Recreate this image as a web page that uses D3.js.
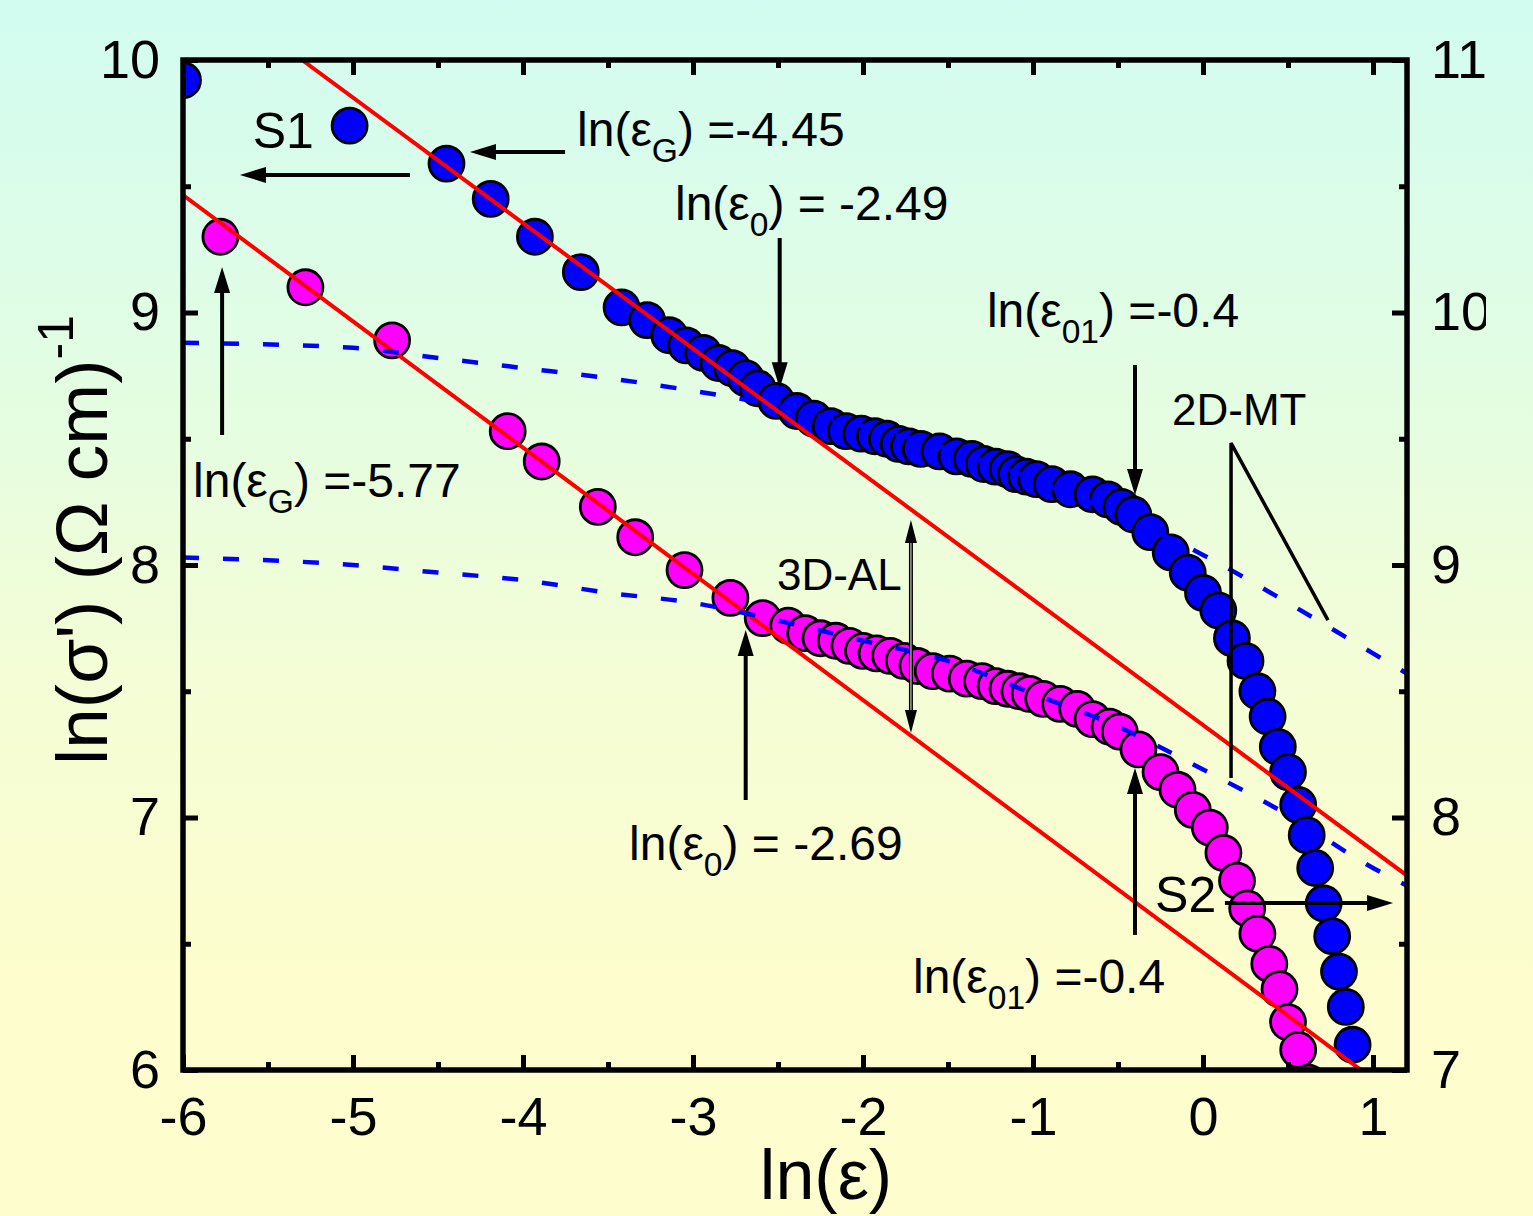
<!DOCTYPE html>
<html>
<head>
<meta charset="utf-8">
<script src="https://cdn.jsdelivr.net/npm/d3@7"></script>
<style>
  html, body { margin: 0; padding: 0; }
  body { width: 1533px; height: 1216px; overflow: hidden; }
  svg { display: block; font-family: "Liberation Sans", Arial, sans-serif; }
</style>
</head>
<body>
<svg id="chart" width="1533" height="1216"></svg>
<script>
// values, all in left-axis units
const s1X = [-6.0, -5.02, -4.45, -4.19, -3.93, -3.66, -3.42, -3.27, -3.14, -3.04, -2.94, -2.85, -2.77, -2.69, -2.62,
  -2.51, -2.39, -2.29, -2.19, -2.10, -2.01, -1.93, -1.86, -1.79, -1.73, -1.66, -1.55, -1.45, -1.36, -1.29,
  -1.22, -1.15, -1.10, -1.04, -0.98, -0.89, -0.78, -0.65, -0.56, -0.48, -0.41, -0.31, -0.19, -0.09, 0.0,
  0.09, 0.17, 0.25, 0.32, 0.38, 0.44, 0.50, 0.56, 0.61, 0.66, 0.71, 0.76, 0.80, 0.84, 0.88];
const s1Y = [9.92, 9.74, 9.59, 9.45, 9.30, 9.16, 9.02, 8.97, 8.91, 8.87, 8.84, 8.80, 8.78, 8.74, 8.70,
  8.65, 8.61, 8.58, 8.55, 8.53, 8.52, 8.51, 8.50, 8.48, 8.47, 8.46, 8.45, 8.43, 8.42, 8.40,
  8.39, 8.38, 8.36, 8.35, 8.34, 8.32, 8.30, 8.28, 8.26, 8.23, 8.20, 8.13, 8.05, 7.97, 7.89,
  7.82, 7.71, 7.62, 7.50, 7.40, 7.28, 7.18, 7.05, 6.93, 6.80, 6.66, 6.53, 6.39, 6.25, 6.10];

const s2X = [-5.78, -5.28, -4.77, -4.09, -3.89, -3.56, -3.34, -3.05, -2.78, -2.59, -2.44, -2.34, -2.25, -2.16, -2.08,
  -2.00, -1.92, -1.84, -1.76, -1.68, -1.59, -1.49, -1.39, -1.30, -1.22, -1.15, -1.08, -1.02, -0.94, -0.84,
  -0.74, -0.65, -0.55, -0.49, -0.38, -0.25, -0.15, -0.06, 0.04, 0.12, 0.20, 0.26, 0.32, 0.39, 0.45,
  0.50, 0.56, 0.62];
const s2Y = [9.30, 9.10, 8.89, 8.53, 8.41, 8.23, 8.11, 7.98, 7.87, 7.79, 7.76, 7.73, 7.71, 7.70, 7.68,
  7.66, 7.65, 7.64, 7.62, 7.60, 7.58, 7.57, 7.55, 7.54, 7.52, 7.51, 7.50, 7.49, 7.47, 7.45,
  7.43, 7.39, 7.36, 7.34, 7.27, 7.18, 7.11, 7.03, 6.96, 6.86, 6.75, 6.64, 6.54, 6.42, 6.32,
  6.19, 6.08, 5.95];

// 2D-MT fits (blue dashed)
const mtX = [-6, -5, -4.5, -4, -3.5, -3, -2.5, -2, -1.5, -1, -0.5, 0, 0.5, 1, 1.2];
const mt1Y = [8.88, 8.86, 8.82, 8.78, 8.74, 8.69, 8.63, 8.55, 8.46, 8.34, 8.20, 8.04, 7.85, 7.65, 7.57];
const mt2Y = [8.03, 8.00, 7.97, 7.94, 7.89, 7.85, 7.78, 7.70, 7.62, 7.49, 7.36, 7.19, 7.01, 6.80, 6.73];

// 3D-AL fits (red straight lines), end points
const al1X = [-5.3, 1.2];
const al1Y = [10.0, 6.77];
const al2X = [-6.0, 0.93];
const al2Y = [9.465, 6.0];

const xTicks = [-6, -5, -4, -3, -2, -1, 0, 1];
const yTicks = [6, 7, 8, 9, 10];
const yRightTicks = [7, 8, 9, 10, 11];

const svg = d3.select("#chart");
const W = 1533, H = 1216;

const x = d3.scaleLinear().domain([-6, 1.2]).range([183, 1407]);
const y = d3.scaleLinear().domain([6, 10]).range([1070, 60]);
const yR = d3.scaleLinear().domain([7, 11]).range([1070, 60]);

// background
const defs = svg.append("defs");
const grad = defs.append("linearGradient").attr("id", "bg").attr("x1", 0).attr("y1", 0).attr("x2", 0).attr("y2", 1);
[[0, "#d2fcf1"], [0.3, "#e2fde3"], [0.55, "#f4fdd6"], [0.8, "#fdfdcd"], [1, "#fefdcd"]].forEach(s =>
  grad.append("stop").attr("offset", s[0]).attr("stop-color", s[1]));
svg.append("rect").attr("width", W).attr("height", H).attr("fill", "url(#bg)");

defs.append("clipPath").attr("id", "plotClip").append("rect")
  .attr("x", x(-6)).attr("y", y(10)).attr("width", x(1.2) - x(-6)).attr("height", y(6) - y(10));
defs.append("clipPath").attr("id", "pageClip").append("rect")
  .attr("x", 0).attr("y", 0).attr("width", 1486).attr("height", H);

const plot = svg.append("g").attr("clip-path", "url(#plotClip)");

const zip = (xs, ys) => xs.map((v, i) => [v, ys[i]]);

// points
plot.append("g").selectAll("circle").data(zip(s1X, s1Y)).join("circle")
  .attr("cx", d => x(d[0])).attr("cy", d => y(d[1])).attr("r", 17.5)
  .attr("fill", "#0000ff").attr("stroke", "#000").attr("stroke-width", 2.8);
plot.append("g").selectAll("circle").data(zip(s2X, s2Y)).join("circle")
  .attr("cx", d => x(d[0])).attr("cy", d => y(d[1])).attr("r", 17.5)
  .attr("fill", "#ff00ff").attr("stroke", "#000").attr("stroke-width", 2.8);

// red fits
const line = d3.line().x(d => x(d[0])).y(d => y(d[1]));
[zip(al1X, al1Y), zip(al2X, al2Y)].forEach(pts =>
  plot.append("path").attr("d", line(pts)).attr("fill", "none")
    .attr("stroke", "#ff0000").attr("stroke-width", 4));

// blue dashed fits
const curve = d3.line().x(d => x(d[0])).y(d => y(d[1])).curve(d3.curveMonotoneX);
[zip(mtX, mt1Y), zip(mtX, mt2Y)].forEach(pts =>
  plot.append("path").attr("d", curve(pts)).attr("fill", "none")
    .attr("stroke", "#0000ff").attr("stroke-width", 4.5).attr("stroke-dasharray", "16,24"));

// axes
function styleAxis(g, size) {
  g.select(".domain").remove();
  g.selectAll(".tick line").attr("stroke", "#000").attr("stroke-width", 5);
  g.selectAll(".tick text").attr("fill", "#000");
  g.attr("font-size", size).attr("font-family", null);
}
const fmt = d => String(d);
const half = v => d3.range(v[0], v[1] + 0.001, 0.5).filter(t => Math.abs(t % 1) > 0.1);
const xMinor = half([-6, 1]);
const yMinor = half([6, 10]);

svg.append("g").attr("transform", `translate(0,${y(6)})`)
  .call(d3.axisBottom(x).tickValues(xTicks).tickSize(-15).tickPadding(27).tickFormat(fmt))
  .call(g => styleAxis(g, 54));
svg.append("g").attr("transform", `translate(0,${y(6)})`)
  .call(d3.axisBottom(x).tickValues(xMinor).tickSize(-8).tickFormat(""))
  .call(g => styleAxis(g, 10));
svg.append("g").attr("transform", `translate(0,${y(10)})`)
  .call(d3.axisTop(x).tickValues(xTicks).tickSize(-15).tickFormat(""))
  .call(g => styleAxis(g, 10));
svg.append("g").attr("transform", `translate(0,${y(10)})`)
  .call(d3.axisTop(x).tickValues(xMinor).tickSize(-8).tickFormat(""))
  .call(g => styleAxis(g, 10));

svg.append("g").attr("transform", `translate(${x(-6)},0)`)
  .call(d3.axisLeft(y).tickValues(yTicks).tickSize(-15).tickPadding(23).tickFormat(fmt))
  .call(g => styleAxis(g, 54));
svg.append("g").attr("transform", `translate(${x(-6)},0)`)
  .call(d3.axisLeft(y).tickValues(yMinor).tickSize(-8).tickFormat(""))
  .call(g => styleAxis(g, 10));
const rightG = svg.append("g").attr("clip-path", "url(#pageClip)");
rightG.append("g").attr("transform", `translate(${x(1.2)},0)`)
  .call(d3.axisRight(yR).tickValues(yRightTicks).tickSize(-15).tickPadding(24).tickFormat(fmt))
  .call(g => styleAxis(g, 54));
rightG.append("g").attr("transform", `translate(${x(1.2)},0)`)
  .call(d3.axisRight(yR).tickValues(yMinor.map(v => v + 1)).tickSize(-8).tickFormat(""))
  .call(g => styleAxis(g, 10));

// frame
svg.append("rect").attr("x", x(-6)).attr("y", y(10))
  .attr("width", x(1.2) - x(-6)).attr("height", y(6) - y(10))
  .attr("fill", "none").attr("stroke", "#000").attr("stroke-width", 5.5);

// axis titles
svg.append("text").attr("x", 826).attr("y", 1199).attr("text-anchor", "middle")
  .attr("font-size", 70).text("ln(ε)");
const yt = svg.append("text").attr("transform", "translate(107,765) rotate(-90)").attr("font-size", 73);
yt.append("tspan").text("ln(σ') (Ω cm)");
yt.append("tspan").attr("font-size", 50).attr("dy", -34).text("-1");

// annotations
const ann = svg.append("g");

function arrow(x1, y1, x2, y2, w = 4, len = 26, hw = 8) {
  const a = Math.atan2(y2 - y1, x2 - x1);
  const bx = x2 - len * Math.cos(a), by = y2 - len * Math.sin(a);
  const px = -Math.sin(a) * hw, py = Math.cos(a) * hw;
  ann.append("line").attr("x1", x1).attr("y1", y1).attr("x2", bx + 2 * Math.cos(a)).attr("y2", by + 2 * Math.sin(a))
    .attr("stroke", "#000").attr("stroke-width", w);
  ann.append("path").attr("d", `M${x2},${y2}L${bx + px},${by + py}L${bx - px},${by - py}Z`).attr("fill", "#000");
}

function subText(xv, yv, pre, sub, post, size = 48) {
  const t = ann.append("text").attr("x", x(xv)).attr("y", y(yv)).attr("font-size", size);
  t.append("tspan").text(pre);
  t.append("tspan").attr("font-size", size * 0.7).attr("dy", 16).text(sub);
  t.append("tspan").attr("dy", -16).text(post);
}

function plainText(xv, yv, s, size) {
  ann.append("text").attr("x", x(xv)).attr("y", y(yv)).attr("font-size", size).text(s);
}

// S1
plainText(-5.59, 9.651, "S1", 50);
arrow(x(-4.665), y(9.545), x(-5.665), y(9.545));
// S1 markers
subText(-3.682, 9.659, "ln(ε", "G", ") =-4.45");
arrow(x(-3.753), y(9.636), x(-4.312), y(9.636));
subText(-3.106, 9.366, "ln(ε", "0", ") = -2.49");
arrow(x(-2.49), y(9.295), x(-2.49), y(8.70));
subText(-1.271, 8.943, "ln(ε", "01", ") =-0.4");
arrow(x(-0.4), y(8.792), x(-0.4), y(8.277));

// S2 markers
subText(-5.941, 8.269, "ln(ε", "G", ") =-5.77");
arrow(x(-5.77), y(8.515), x(-5.77), y(9.18));
subText(-3.376, 6.832, "ln(ε", "0", ") = -2.69");
arrow(x(-2.69), y(7.069), x(-2.69), y(7.743));
subText(-1.706, 6.305, "ln(ε", "01", ") =-0.4");
arrow(x(-0.4), y(6.535), x(-0.4), y(7.196));
plainText(-0.282, 6.626, "S2", 50);
arrow(x(0.129), y(6.661), x(1.118), y(6.661));

// 2D-MT
plainText(-0.182, 8.554, "2D-MT", 44);
ann.append("path")
  .attr("d", d3.line()([[x(0.165), y(7.156)], [x(0.165), y(8.483)], [x(0.735), y(7.782)]]))
  .attr("fill", "none").attr("stroke", "#000").attr("stroke-width", 3.5);

// 3D-AL double arrow
plainText(-2.506, 7.901, "3D-AL", 44);
const dx = x(-1.718), dTop = y(8.178), dBot = y(7.335);
ann.append("line").attr("x1", dx).attr("x2", dx).attr("y1", dTop + 20).attr("y2", dBot - 20)
  .attr("stroke", "#000").attr("stroke-width", 4);
ann.append("line").attr("x1", dx).attr("x2", dx).attr("y1", dTop + 20).attr("y2", dBot - 20)
  .attr("stroke", "#c8c8c0").attr("stroke-width", 1.2);
[[dTop, 1], [dBot, -1]].forEach(([ty, s]) =>
  ann.append("path").attr("d", `M${dx},${ty}L${dx - 6},${ty + s * 23}L${dx + 6},${ty + s * 23}Z`).attr("fill", "#000"));
</script>
</body>
</html>
